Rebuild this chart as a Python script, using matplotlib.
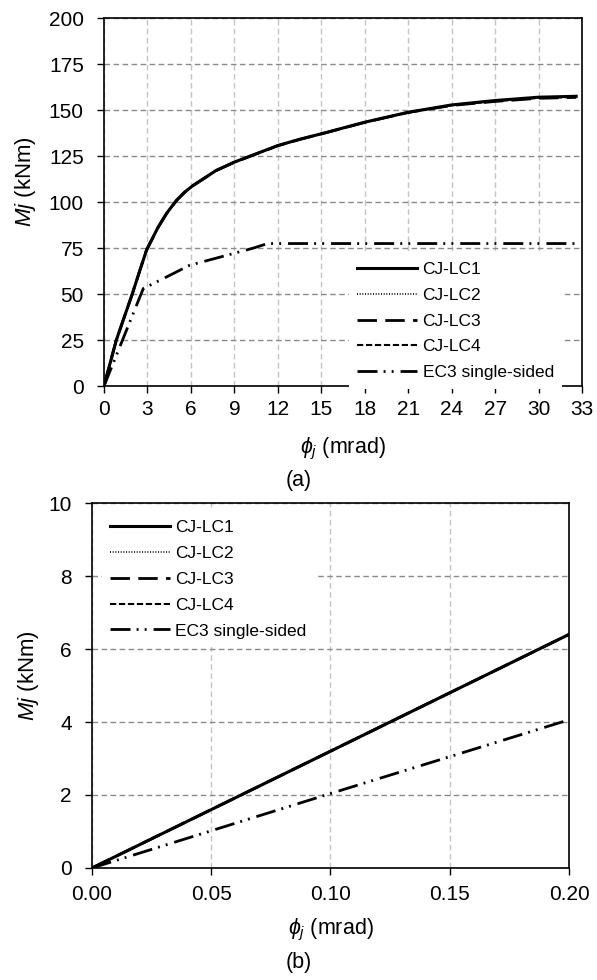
import matplotlib.pyplot as plt
from matplotlib.ticker import MultipleLocator, FormatStrFormatter

plt.rcParams['font.family'] = ['Liberation Sans', 'DejaVu Sans']
plt.rcParams['font.size'] = 15
plt.rcParams['mathtext.fontset'] = 'custom'
plt.rcParams['mathtext.rm'] = 'Liberation Sans'
plt.rcParams['mathtext.it'] = 'Liberation Sans:italic'

# (a) full range
phi_a = [0, 0.85, 1.95, 2.48, 2.94, 3.74, 4.31, 5.0, 5.57, 6.15, 7.75, 9.0, 10.5, 12.0, 13.5, 15, 18, 21, 24, 27, 30, 32.6]
m_lc1 = [0, 25, 50, 63, 74, 86.5, 93.8, 101, 105.5, 109.1, 117.3, 121.8, 126.3, 130.8, 134.2, 137.2, 143.5, 148.9, 152.9, 155.3, 157.1, 157.6]
m_lc2 = [0, 25, 50, 63, 74, 86.5, 93.8, 101, 105.5, 109.1, 117.3, 121.8, 126.3, 130.8, 134.2, 137.2, 143.5, 148.9, 152.9, 155.2, 157.0, 157.5]
m_lc3 = [0, 25, 50, 63, 74, 86.3, 93.6, 100.8, 105.3, 109.0, 117.2, 121.7, 126.2, 130.7, 134.1, 137.1, 143.4, 148.8, 152.6, 154.8, 156.5, 157.0]
m_lc4 = [0, 25, 50, 63, 74, 86.4, 93.7, 100.9, 105.4, 109.0, 117.2, 121.7, 126.2, 130.7, 134.1, 137.1, 143.4, 148.8, 152.7, 154.9, 156.7, 157.2]
phi_ec3_a = [0, 2.71, 4.31, 5.92, 8.9, 10.3, 11.3, 32.6]
m_ec3_a = [0, 53, 59.3, 65.7, 72, 75.0, 77.5, 77.5]

# (b) initial part
phi_b = [0, 0.05, 0.10, 0.15, 0.20]
m_lc_b = [0, 1.6, 3.2, 4.8, 6.4]
m_ec3_b = [0, 1.02, 2.04, 3.05, 4.06]

labels = ['CJ-LC1', 'CJ-LC2', 'CJ-LC3', 'CJ-LC4', 'EC3 single-sided']
styles = [('-', 2.2), ((0, (0.6, 1.0)), 1.2), ((0, (7, 3)), 2.0),
          ((0, (3, 1.3)), 1.5), ((0, (7.2, 2.2, 0.7, 2.2, 0.7, 2.5)), 2.0)]

fig = plt.figure(figsize=(5.97, 9.8), dpi=100)
ax1 = fig.add_axes([0.1742, 0.6061, 0.8007, 0.3752])
ax2 = fig.add_axes([0.1541, 0.1143, 0.799, 0.3724])

series_a = [(phi_a, m_lc1), (phi_a, m_lc2), (phi_a, m_lc3), (phi_a, m_lc4), (phi_ec3_a, m_ec3_a)]
series_b = [(phi_b, m_lc_b), (phi_b, m_lc_b), (phi_b, m_lc_b), (phi_b, m_lc_b), (phi_b, m_ec3_b)]

for ax, series in [(ax1, series_a), (ax2, series_b)]:
    for (x, y), lab, (ls, lw) in zip(series, labels, styles):
        ax.plot(x, y, color='black', linestyle=ls, linewidth=lw, label=lab, zorder=3)
    ax.set_axisbelow(True)
    ax.yaxis.grid(True, color='#8a8a8a', linestyle=(0, (4, 2.5)), linewidth=1)
    ax.xaxis.grid(True, color='#c4c4c4', linestyle=(0, (4, 2.5)), linewidth=1)
    for s in ax.spines.values():
        s.set_linewidth(1.2)
    ax.tick_params(direction='out', length=5, width=1)
    ax.tick_params(axis='y', pad=9.5)

ax1.set_xlim(0, 33)
ax1.set_ylim(0, 200)
ax1.xaxis.set_major_locator(MultipleLocator(3))
ax1.yaxis.set_major_locator(MultipleLocator(25))
ax1.tick_params(axis='x', pad=5)

ax2.set_xlim(0, 0.2)
ax2.set_ylim(0, 10)
ax2.xaxis.set_major_locator(MultipleLocator(0.05))
ax2.xaxis.set_major_formatter(FormatStrFormatter('%.2f'))
ax2.yaxis.set_major_locator(MultipleLocator(2))
ax2.tick_params(axis='x', pad=7.5)

for ax, xy, ly in [(ax1, -0.165, 0.557), (ax2, -0.134, 0.526)]:
    ax.set_ylabel(r'$Mj$ (kNm)', fontsize=16)
    ax.yaxis.set_label_coords(xy, ly)
    ax.yaxis.label.set_va('center')

ax1.set_xlabel(r'$\phi_j$ (mrad)', fontsize=15.5)
ax1.xaxis.set_label_coords(0.5, -(449 - 386) / 367.7)
ax1.xaxis.label.set_va('center')
ax2.set_xlabel(r'$\phi_j$ (mrad)', fontsize=15.5)
ax2.xaxis.set_label_coords(0.5, -(930 - 868) / 365)
ax2.xaxis.label.set_va('center')

leg_kw = dict(frameon=True, facecolor='white', edgecolor='none', framealpha=1, fancybox=False,
              fontsize=12.5, handlelength=3.45, handletextpad=0.3, labelspacing=0.62, borderpad=0.5,
              borderaxespad=0, loc='upper left')
l1 = ax1.legend(bbox_to_anchor=(0.512, 0.362), **leg_kw)
l2 = ax2.legend(bbox_to_anchor=(0.02, 0.978), **leg_kw)
l1.set_zorder(2.5)
l2.set_zorder(2.5)

fig.text(0.5, 1 - 480 / 980, '(a)', ha='center', va='center', fontsize=15.5)
fig.text(0.5, 1 - 962 / 980, '(b)', ha='center', va='center', fontsize=15.5)

fig.savefig('out.png', dpi=100)
